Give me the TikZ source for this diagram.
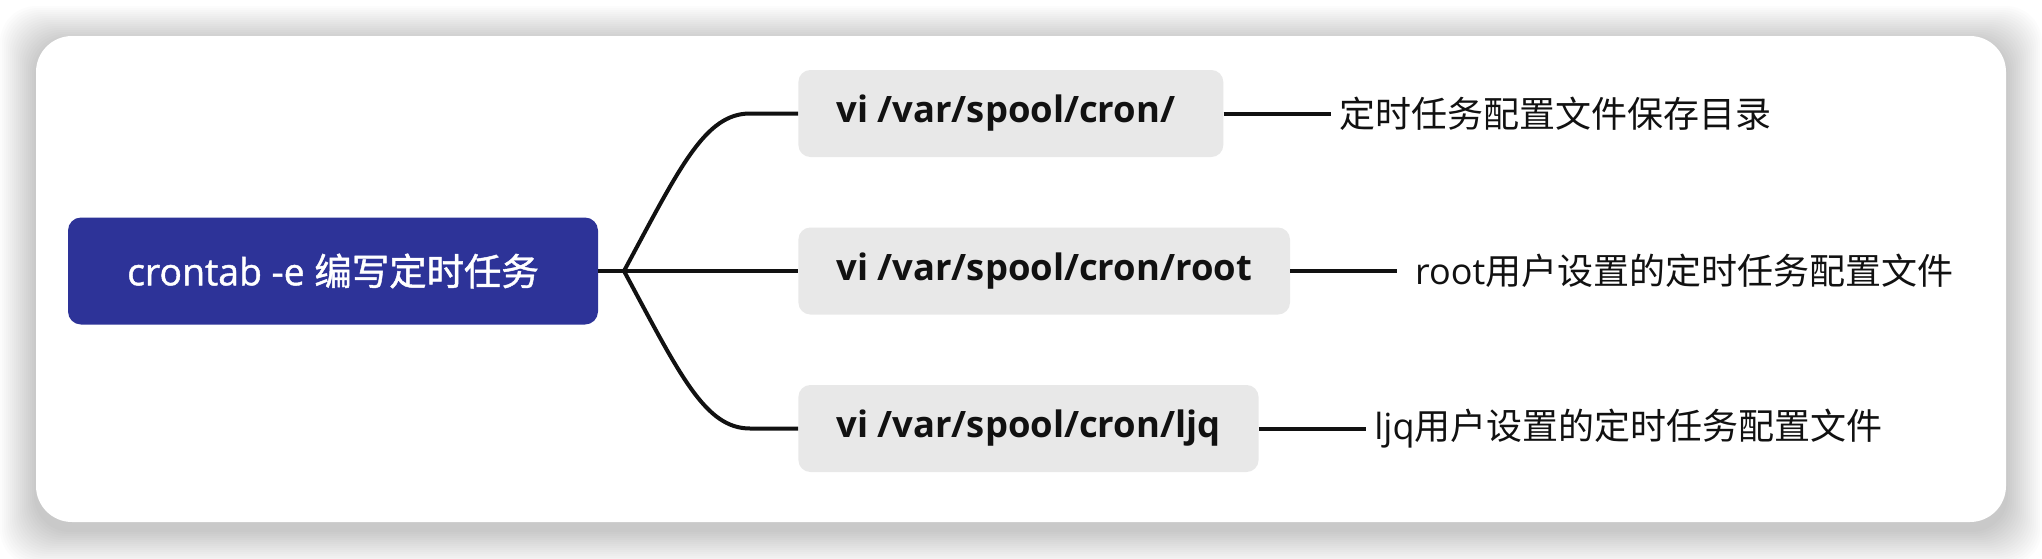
\documentclass[tikz,border=0pt]{standalone}
\usepackage{fontspec}
\setmainfont{Open Sans}
\newfontfamily\cjk{Noto Sans CJK SC}
\newfontfamily\semib{Open Sans}[FakeBold=1.2]
\newfontfamily\cjkmed{Noto Sans CJK SC}[FakeBold=1.2]
\usetikzlibrary{positioning,calc}

\definecolor{rootblue}{RGB}{45,51,152}
\definecolor{leafgray}{RGB}{232,232,232}
\definecolor{inkline}{RGB}{17,17,17}

\begin{document}
\begin{tikzpicture}[x=0.5pt,y=-0.5pt,font=\fontsize{18}{22}\selectfont,
 rootbox/.style={fill=rootblue,text=white,rounded corners=6.5pt,minimum width=265pt,minimum height=53.5pt,font=\fontsize{18.7}{22}\selectfont\semib},
 leaf/.style={fill=leafgray,text=inkline,rounded corners=6pt,minimum height=43.5pt,inner xsep=19pt,anchor=west,font=\fontsize{18.2}{22}\selectfont\bfseries},
 note/.style={text=inkline,inner xsep=4pt,anchor=west},
 link/.style={draw=inkline,line width=2pt}]
\useasboundingbox (0,0) rectangle (2042,558);
\fill[white] (0,0) rectangle (2042,558);
% card with soft shadow
\foreach \s in {2,4,...,36}
  \fill[black,opacity=0.011,rounded corners=18pt] (36-\s,42-\s) rectangle (2006+\s,530+\s);
\fill[white,rounded corners=18pt] (36,36) rectangle (2006,522);
\node[rootbox] (root) at (333,271) {crontab -e {\cjkmed 编写定时任务}};
\node[leaf] (c1) at (798,113.5) {vi /var/spool/cron/\kern5pt};
\node[leaf] (c2) at (798,271) {vi /var/spool/cron/root};
\node[leaf] (c3) at (798,428.5) {vi /var/spool/cron/ljq};
\node[note,right=53.5pt of c1] (n1) {\cjk 定时任务配置文件保存目录};
\node[note,right=53.5pt of c2] (n2) {\ root{\cjk 用户设置的定时任务配置文件}};
\node[note,right=53.5pt of c3] (n3) {ljq{\cjk 用户设置的定时任务配置文件}};
\coordinate (fork) at (624,271);
\draw[link] (root.east) -- (fork) -- (c2.west);
\draw[link] (fork) .. controls ($(fork)+(56,-104)$) and ($(c1.west)+(-93,0)$) .. ($(c1.west)+(-48,0)$) -- (c1.west);
\draw[link] (fork) .. controls ($(fork)+(56,104)$) and ($(c3.west)+(-93,0)$) .. ($(c3.west)+(-48,0)$) -- (c3.west);
\draw[link] (c1) -- (n1);
\draw[link] (c2) -- (n2);
\draw[link] (c3) -- (n3);
\end{tikzpicture}
\end{document}
